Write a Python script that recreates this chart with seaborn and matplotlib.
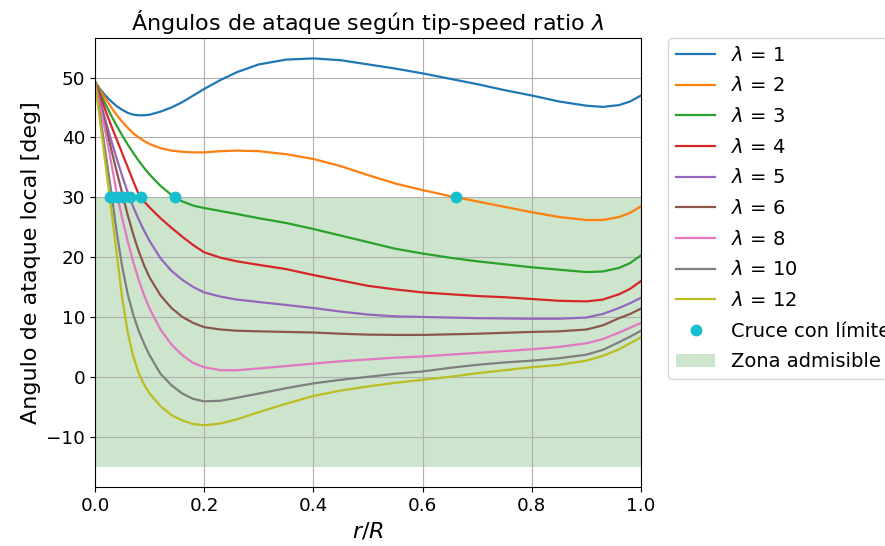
import numpy as np
import pandas as pd
import matplotlib
matplotlib.use("Agg")
import matplotlib.pyplot as plt
import seaborn as sns

# radial stations r/R
r_R = [0.00, 0.01, 0.02, 0.03, 0.04, 0.05, 0.06, 0.07, 0.08, 0.09, 0.10,
       0.12, 0.14, 0.16, 0.18, 0.20, 0.23, 0.26, 0.30, 0.35, 0.40, 0.45,
       0.50, 0.55, 0.60, 0.65, 0.70, 0.75, 0.80, 0.85, 0.90, 0.93, 0.96,
       0.98, 1.00]

tsr = [1, 2, 3, 4, 5, 6, 8, 10, 12]

# local angle of attack [deg] for each tip-speed ratio
aoa_l1 = [49.3, 48.0, 46.9, 46.0, 45.2, 44.6, 44.1, 43.8, 43.7, 43.7, 43.8,
          44.3, 45.0, 45.9, 47.0, 48.1, 49.6, 50.9, 52.2, 53.0, 53.2, 52.9,
          52.2, 51.5, 50.7, 49.8, 48.9, 47.9, 47.0, 46.0, 45.3, 45.1, 45.4,
          46.0, 47.0]
aoa_l2 = [49.3, 47.8, 46.4, 45.0, 43.7, 42.6, 41.6, 40.7, 40.0, 39.4, 38.9,
          38.2, 37.8, 37.6, 37.5, 37.5, 37.7, 37.8, 37.7, 37.2, 36.4, 35.2,
          33.7, 32.3, 31.2, 30.2, 29.3, 28.4, 27.5, 26.7, 26.2, 26.2, 26.7,
          27.4, 28.5]
aoa_l3 = [49.3, 47.3, 45.4, 43.6, 41.9, 40.3, 38.8, 37.4, 36.1, 34.9, 33.8,
          31.9, 30.4, 29.3, 28.6, 28.2, 27.7, 27.2, 26.5, 25.7, 24.7, 23.6,
          22.5, 21.4, 20.6, 19.9, 19.3, 18.8, 18.3, 17.9, 17.5, 17.6, 18.2,
          19.0, 20.3]
aoa_l4 = [49.3, 46.8, 44.3, 41.9, 39.6, 37.3, 35.0, 32.7, 30.5, 29.3, 28.3,
          26.5, 24.9, 23.4, 22.0, 20.8, 19.9, 19.3, 18.7, 18.0, 17.0, 16.1,
          15.2, 14.6, 14.1, 13.8, 13.5, 13.3, 13.0, 12.7, 12.6, 12.9, 13.8,
          14.7, 16.0]
aoa_l5 = [49.3, 45.9, 42.6, 39.4, 36.4, 33.5, 30.8, 28.4, 26.3, 24.4, 22.7,
          19.8, 17.7, 16.2, 15.0, 14.1, 13.4, 12.9, 12.5, 12.0, 11.5, 10.9,
          10.4, 10.1, 10.0, 9.9, 9.8, 9.75, 9.7, 9.7, 9.9, 10.5, 11.5,
          12.3, 13.2]
aoa_l6 = [49.3, 45.5, 41.7, 37.9, 34.2, 30.6, 27.0, 23.8, 21.0, 18.6, 16.6,
          13.6, 11.5, 10.0, 9.0, 8.3, 7.9, 7.7, 7.6, 7.5, 7.4, 7.2,
          7.05, 7.0, 7.0, 7.1, 7.2, 7.35, 7.5, 7.6, 7.9, 8.6, 9.8,
          10.5, 11.4]
aoa_l8 = [49.3, 45.0, 40.5, 35.6, 30.6, 26.4, 22.6, 19.2, 16.2, 13.6, 11.4,
          7.9, 5.4, 3.6, 2.3, 1.6, 1.1, 1.1, 1.4, 1.8, 2.2, 2.6,
          2.9, 3.2, 3.4, 3.7, 4.0, 4.3, 4.6, 5.0, 5.6, 6.3, 7.4,
          8.2, 9.0]
aoa_l10 = [49.3, 43.2, 37.0, 30.8, 24.0, 18.3, 13.8, 10.4, 7.7, 5.5, 3.6,
           0.5, -1.4, -2.8, -3.7, -4.1, -4.0, -3.5, -2.8, -1.9, -1.1, -0.5,
           0.0, 0.5, 0.9, 1.5, 2.0, 2.4, 2.7, 3.1, 3.7, 4.5, 5.8,
           6.7, 7.7]
aoa_l12 = [49.3, 42.1, 35.0, 27.8, 20.4, 13.0, 7.4, 3.4, 0.6, -1.3, -2.8,
           -4.9, -6.4, -7.3, -7.9, -8.1, -7.8, -7.1, -5.9, -4.5, -3.2, -2.3,
           -1.6, -1.0, -0.5, 0.0, 0.6, 1.1, 1.6, 2.0, 2.7, 3.5, 4.6,
           5.6, 6.6]

aoa_curves = [aoa_l1, aoa_l2, aoa_l3, aoa_l4, aoa_l5, aoa_l6,
              aoa_l8, aoa_l10, aoa_l12]

aoa_limit = 30.0
zone_low = -15.0

plt.rcParams.update({"font.size": 13.2})

fig = plt.figure(figsize=(8.85, 5.46), dpi=100)
ax = fig.add_axes([95 / 885, 1 - 487 / 546, 546 / 885, 449 / 546])

palette = sns.color_palette("tab10", len(tsr))
r_arr = np.asarray(r_R)

cross_r = []
for lam, aoa, col in zip(tsr, aoa_curves, palette):
    df = pd.DataFrame({"r": r_R, "aoa": aoa})
    sns.lineplot(data=df, x="r", y="aoa", color=col, lw=1.6,
                 estimator=None, sort=False, ax=ax,
                 label=f"$\\lambda$ = {lam}")
    a = np.asarray(aoa)
    idx = np.where(a <= aoa_limit)[0]
    if len(idx) and idx[0] > 0:
        i = idx[0]
        frac = (a[i - 1] - aoa_limit) / (a[i - 1] - a[i])
        cross_r.append(r_arr[i - 1] + frac * (r_arr[i] - r_arr[i - 1]))

ax.plot(cross_r, [aoa_limit] * len(cross_r), "o", color="#17becf",
        ms=7.5, label="Cruce con límite")
ax.fill_between([0, 1], zone_low, aoa_limit, color="green", alpha=0.2,
                lw=0, label="Zona admisible")

ax.set_xlim(0, 1)
ax.grid(True, color="#b0b0b0", lw=0.8)
ax.set_xlabel("$r/R$", fontsize=16)
ax.set_ylabel("Angulo de ataque local [deg]", fontsize=16)
ax.set_title("Ángulos de ataque según tip-speed ratio $\\lambda$", fontsize=16)
ax.legend(loc="upper left", bbox_to_anchor=(1.05, 1), borderaxespad=0.0,
          fontsize=14, labelspacing=0.6)

fig.savefig("out.png", dpi=100)
